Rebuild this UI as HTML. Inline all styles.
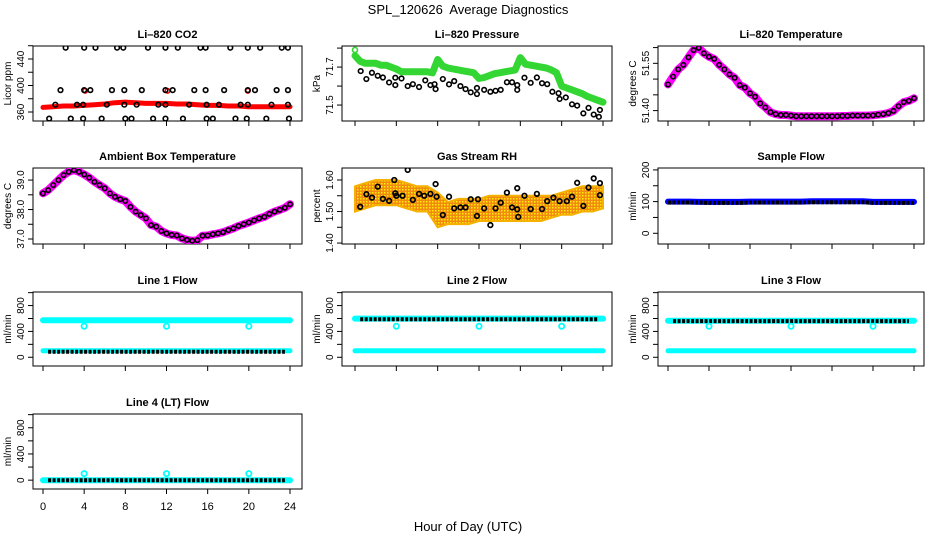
<!DOCTYPE html>
<html><head><meta charset="utf-8"><style>
html,body{margin:0;padding:0;background:#fff;}
svg{display:block;font-family:"Liberation Sans",sans-serif;}
</style></head><body>
<svg id="chart" width="936" height="540" viewBox="0 0 936 540" xmlns="http://www.w3.org/2000/svg">
<defs>
<pattern id="rhpat" width="3" height="3" patternUnits="userSpaceOnUse"><rect width="3" height="3" fill="#f08a10"/><rect x="0" y="0" width="1.5" height="1.5" fill="#ffee00"/></pattern>
</defs>
<text x="468" y="14" font-size="13" text-anchor="middle">SPL_120626&#160; Average Diagnostics</text>
<text x="468" y="531" font-size="13" text-anchor="middle">Hour of Day (UTC)</text>
</svg>
<script>
const halfHours=[0,0.5,1,1.5,2,2.5,3,3.5,4,4.5,5,5.5,6,6.5,7,7.5,8,8.5,9,9.5,10,10.5,11,11.5,12,12.5,13,13.5,14,14.5,15,15.5,16,16.5,17,17.5,18,18.5,19,19.5,20,20.5,21,21.5,22,22.5,23,23.5,24];
const hours=[0,1,2,3,4,5,6,7,8,9,10,11,12,13,14,15,16,17,18,19,20,21,22,23,24];
const xTicks=[0,4,8,12,16,20,24];
// CO2
const co2Red=[367,368,369,369,370,371,372,374,375,374,373,373,373,372,372,371,370,370,369,369,368,368,368,368,368];
const co2RedOutHours=[4.1,12.1,19.9];
const co2RedOutVals=[392,392,392];
const co2BlackHours=[2.2,4.0,5.1,7.2,7.8,10.2,11.9,13.1,15.3,15.8,18.2,19.9,21.1,23.2,23.8,1.7,4.0,4.6,6.7,7.9,9.6,11.9,12.6,14.7,15.8,17.6,19.9,20.6,22.7,23.8,1.2,3.3,3.9,6.2,7.9,9.1,11.2,11.9,14.2,15.9,17.1,19.2,19.9,22.2,23.8,0.6,2.7,3.9,5.7,8.0,8.6,10.7,11.9,13.6,15.9,16.5,18.7,19.8,21.7,23.9];
const co2BlackVals=[457,457,457,457,457,457,457,457,457,457,457,457,457,457,457,393,393,393,393,393,393,393,393,393,393,393,393,393,393,393,371,371,371,371,371,371,371,371,371,371,371,371,371,371,371,350,350,350,350,350,350,350,350,350,350,350,350,350,350,350];
// Pressure
const presGreen=[71.76,71.73,71.72,71.72,71.72,71.71,71.71,71.70,71.69,71.675,71.675,71.675,71.675,71.675,71.675,71.67,71.74,71.705,71.695,71.69,71.685,71.68,71.675,71.67,71.64,71.645,71.655,71.665,71.67,71.675,71.68,71.685,71.75,71.715,71.71,71.705,71.70,71.695,71.685,71.67,71.60,71.59,71.58,71.57,71.56,71.545,71.535,71.525,71.515];
const presBlackHours=[0.55,1.1,1.64,2.2,2.7,3.3,3.9,3.9,4.5,5.1,5.6,6.2,6.8,7.3,7.7,7.8,8.5,9.1,9.6,10.2,10.7,11.2,11.8,11.8,12.5,13.1,13.6,14.1,14.7,15.2,15.7,15.7,16.4,17.0,17.6,18.1,18.6,19.1,19.7,19.8,20.4,21.0,21.5,22.1,22.6,23.1,23.6,23.7];
const presBlackVals=[71.679,71.637,71.67,71.654,71.645,71.619,71.644,71.605,71.64,71.60,71.61,71.595,71.63,71.605,71.61,71.584,71.637,71.609,71.626,71.60,71.584,71.567,71.558,71.59,71.58,71.57,71.575,71.58,71.62,71.62,71.605,71.58,71.644,71.617,71.645,71.615,71.61,71.57,71.562,71.532,71.54,71.504,71.497,71.456,71.485,71.45,71.438,71.474];
// Li-820 temperature
const licorTemp=[51.483,51.508,51.531,51.545,51.569,51.592,51.599,51.582,51.571,51.564,51.545,51.531,51.515,51.504,51.481,51.473,51.455,51.444,51.423,51.410,51.395,51.389,51.386,51.386,51.384,51.382,51.382,51.382,51.382,51.382,51.382,51.382,51.382,51.382,51.383,51.383,51.384,51.384,51.384,51.384,51.385,51.387,51.389,51.392,51.399,51.414,51.427,51.431,51.439];
// Ambient
const ambTemp=[38.55,38.66,38.83,39.0,39.17,39.28,39.34,39.28,39.19,39.08,38.94,38.83,38.72,38.55,38.43,38.35,38.29,38.09,37.93,37.81,37.70,37.47,37.42,37.27,37.19,37.14,37.12,37.02,36.97,36.94,36.96,37.11,37.12,37.16,37.19,37.23,37.30,37.36,37.44,37.50,37.56,37.63,37.70,37.75,37.85,37.93,37.99,38.06,38.18];
// RH
const rhUpper=[1.58,1.59,1.60,1.60,1.60,1.59,1.58,1.58,1.56,1.53,1.54,1.54,1.54,1.55,1.55,1.55,1.55,1.55,1.55,1.55,1.56,1.57,1.58,1.58,1.58];
const rhLower=[1.50,1.51,1.52,1.52,1.52,1.51,1.50,1.50,1.45,1.46,1.46,1.46,1.47,1.47,1.47,1.47,1.47,1.47,1.47,1.48,1.49,1.49,1.50,1.50,1.51];
const rhBlackHours=[0.5,1.1,1.64,2.2,2.7,3.3,3.8,3.9,4.0,4.6,5.1,5.6,6.2,6.7,7.3,7.8,7.9,8.5,9.1,9.6,10.2,10.7,11.2,11.8,11.9,12.5,13.1,13.6,14.1,14.7,15.2,15.7,15.7,15.8,16.4,17.0,17.6,18.1,18.6,19.2,19.8,20.5,21.0,21.5,22.1,22.6,23.1,23.7,23.7];
const rhBlackVals=[1.515,1.555,1.544,1.579,1.54,1.534,1.60,1.558,1.55,1.55,1.632,1.537,1.556,1.55,1.556,1.587,1.547,1.489,1.547,1.51,1.513,1.513,1.539,1.486,1.539,1.51,1.457,1.51,1.528,1.56,1.513,1.574,1.507,1.483,1.55,1.508,1.556,1.508,1.533,1.544,1.533,1.533,1.547,1.591,1.518,1.576,1.605,1.552,1.59];
// Flows
const sampleBlue=[100,100,100,99,99,99,99,99,100,100,100,100,100,100,101,101,101,101,101,101,99,99,99,99,99];
const sampleBlack=[97,97,97,97,96,96,96,96,97,97,97,97,97,97,98,98,98,98,98,98,96,96,96,96,96];
const line1CyanHigh=[572,572,572,572,572,572,572,572,572,572,572,572,572,572,572,572,572,572,572,572,572,572,572,572,572];
const line1CyanLow=[100,100,100,100,100,100,100,100,100,100,100,100,100,100,100,100,100,100,100,100,100,100,100,100,100];
const line1Black=[85,85,85,85,85,85,85,85,85,85,85,85,85,85,85,85,85,85,85,85,85,85,85,85,85];
const line2CyanHigh=[598,598,598,598,598,598,598,598,598,598,598,598,598,598,598,598,598,598,598,598,598,598,598,598,598];
const line2CyanLow=[100,100,100,100,100,100,100,100,100,100,100,100,100,100,100,100,100,100,100,100,100,100,100,100,100];
const line2Black=[588,588,588,588,588,588,588,588,588,588,588,588,588,588,588,588,588,588,588,588,588,588,588,588,588];
const line3CyanHigh=[565,565,565,565,565,565,565,565,565,565,565,565,565,565,565,565,565,565,565,565,565,565,565,565,565];
const line3CyanLow=[100,100,100,100,100,100,100,100,100,100,100,100,100,100,100,100,100,100,100,100,100,100,100,100,100];
const line3Black=[560,560,560,560,560,560,560,560,560,560,560,560,560,560,560,560,560,560,560,560,560,560,560,560,560];
const line4Cyan=[0,0,0,0,0,0,0,0,0,0,0,0,0,0,0,0,0,0,0,0,0,0,0,0,0];
const line4Black=[0,0,0,0,0,0,0,0,0,0,0,0,0,0,0,0,0,0,0,0,0,0,0,0,0];
const flowOutHours=[4,12,20];
const flowOutVals=[480,480,480];
const line4OutVals=[100,100,100];

const svg=document.getElementById('chart');
const NS='http://www.w3.org/2000/svg';
const COLS=[[33,302,43,290],[342,612,355,603],[658,924,668,914]];
const ROWS=[[46,121],[168,244],[292,366],[414,489]];
function mk(tag,attrs,parent){const e=document.createElementNS(NS,tag);for(const k in attrs)e.setAttribute(k,attrs[k]);(parent||svg).appendChild(e);return e;}

function panel(name,c,r,title,ylab,vmin,vmax,yt,ylabels,yfmt){
  const [L,R,X0,X24]=COLS[c],[T,B]=ROWS[r];
  const g=mk('g',{});
  
  
  const p={g,L,R,T,B,x:h=>X0+h*(X24-X0)/24,y:v=>B-(v-vmin)/(vmax-vmin)*(B-T)};
  const tt=mk('text',{x:(L+R)/2,y:T-8,'font-size':11,'font-weight':'bold','text-anchor':'middle'},g);
  tt.textContent=title;
  
  
  const box=mk('rect',{x:L,y:T,width:R-L,height:B-T,fill:'none',stroke:'#000','stroke-width':1},g);
  
  
  xTicks.forEach(h=>{
    const xx=p.x(h);
    mk('line',{x1:xx,x2:xx,y1:B,y2:B+5,stroke:'#000'},g);
    if(r===3){const t=mk('text',{x:xx,y:B+21,'font-size':11,'text-anchor':'middle'},g);t.textContent=h;
      
      }
  });
  yt.forEach(v=>{const yy=p.y(v);mk('line',{x1:L,x2:L-5,y1:yy,y2:yy,stroke:'#000'},g);});
  ylabels.forEach(v=>{const yy=p.y(v);
    const t=mk('text',{x:0,y:0,'font-size':10,'text-anchor':'middle',transform:`translate(${L-9},${yy}) rotate(-90)`},g);
    t.textContent=yfmt(v);
    
    });
  const yl=mk('text',{x:0,y:0,'font-size':10,'text-anchor':'middle',transform:`translate(${L-22},${(T+B)/2}) rotate(-90)`},g);
  yl.textContent=ylab;
  
  
  const clip=mk('clipPath',{id:'clip'+name},g);mk('rect',{x:L,y:T,width:R-L,height:B-T},clip);
  p.plot=mk('g',{'clip-path':`url(#clip${name})`},g);
  return p;
}
function band(p,xs,vals,color,w,nm,dash){
  const d=xs.map((h,i)=>(i?'L':'M')+p.x(h).toFixed(1)+','+p.y(vals[i]).toFixed(1)).join('');
  const a={d,fill:'none',stroke:color,'stroke-width':w,'stroke-linejoin':'round','stroke-linecap':dash?'butt':'round'};
  if(dash)a['stroke-dasharray']=dash;
  const e=mk('path',a,p.plot);
  
  
}
function pts(p,xs,vals,color,rad,sw,nm){
  xs.forEach((h,i)=>{const e=mk('circle',{cx:p.x(h),cy:p.y(vals[i]),r:rad,fill:'none',stroke:color,'stroke-width':sw},p.plot);
    
    });
}
function area(p,xs,up,lo,fill,nm){
  let d=xs.map((h,i)=>(i?'L':'M')+p.x(h).toFixed(1)+','+p.y(up[i]).toFixed(1)).join('');
  for(let i=xs.length-1;i>=0;i--)d+='L'+p.x(xs[i]).toFixed(1)+','+p.y(lo[i]).toFixed(1);
  const e=mk('path',{d:d+'Z',fill,stroke:'#f5b000','stroke-width':2},p.plot);
  
  
}
const f0=v=>String(v), f1=v=>v.toFixed(1), f2=v=>v.toFixed(2);

let p=panel('co2',0,0,'Li\u2013820 CO2','Licor ppm',346.4,459.6,[360,380,400,420,440,460],[360,400,440],f0);
band(p,hours,co2Red,'#ff0000',5,'co2-red-series');
pts(p,co2RedOutHours,co2RedOutVals,'#ff0000',2.3,1.6,'co2-red-outlier');
pts(p,co2BlackHours,co2BlackVals,'#000',2.3,1.6,'co2-black-point');

p=panel('pressure',1,0,'Li\u2013820 Pressure','kPa',71.416,71.811,[71.5,71.6,71.7,71.8],[71.5,71.7],f1);
band(p,halfHours,presGreen,'#33d633',7,'pressure-green-series');
pts(p,[0],[71.79],'#33d633',2.5,1.6,'pressure-green-start');
pts(p,presBlackHours,presBlackVals,'#000',2.3,1.6,'pressure-black-point');

p=panel('licor-temp',2,0,'Li\u2013820 Temperature','degrees C',51.367,51.605,[51.40,51.45,51.50,51.55,51.60],[51.40,51.55],f2);
band(p,halfHours,licorTemp,'#ff00ff',8,'licor-temp-magenta-series');
pts(p,halfHours,licorTemp,'#000',2.2,1.6,'licor-temp-black-point');

p=panel('ambient',0,1,'Ambient Box Temperature','degrees C',36.83,39.41,[37,37.5,38,38.5,39],[37,38,39],f1);
band(p,halfHours,ambTemp,'#ff00ff',8,'ambient-magenta-series');
pts(p,halfHours,ambTemp,'#000',2.2,1.6,'ambient-black-point');

p=panel('rh',1,1,'Gas Stream RH','percent',1.397,1.638,[1.40,1.45,1.50,1.55,1.60],[1.40,1.50,1.60],f2);
area(p,hours,rhUpper,rhLower,'url(#rhpat)','rh-orange-cloud');
pts(p,rhBlackHours,rhBlackVals,'#000',2.3,1.7,'rh-black-point');

p=panel('sample-flow',2,1,'Sample Flow','ml/min',-33.8,206,[0,50,100,150,200],[0,100,200],f0);
band(p,hours,sampleBlue,'#0000ff',6,'sample-blue-series');
band(p,hours,sampleBlack,'#000',4,'sample-black-series','3 1.5');

p=panel('line1',0,2,'Line 1 Flow','ml/min',-135,1010,[0,200,400,600,800,1000],[0,400,800],f0);
band(p,hours,line1CyanHigh,'#00ffff',6,'line1-cyan-high');
band(p,hours,line1CyanLow,'#00ffff',5,'line1-cyan-low');
band(p,hours.slice(1).map(h=>h-0.5),line1Black.slice(1),'#000',4,'line1-black-series','3 1.5');
pts(p,flowOutHours,flowOutVals,'#00ffff',2.6,1.8,'line1-outlier');

p=panel('line2',1,2,'Line 2 Flow','ml/min',-135,1010,[0,200,400,600,800,1000],[0,400,800],f0);
band(p,hours,line2CyanHigh,'#00ffff',6,'line2-cyan-high');
band(p,hours,line2CyanLow,'#00ffff',5,'line2-cyan-low');
band(p,hours.slice(1).map(h=>h-0.5),line2Black.slice(1),'#000',4,'line2-black-series','3 1.5');
pts(p,flowOutHours,flowOutVals,'#00ffff',2.6,1.8,'line2-outlier');

p=panel('line3',2,2,'Line 3 Flow','ml/min',-135,1010,[0,200,400,600,800,1000],[0,400,800],f0);
band(p,hours,line3CyanHigh,'#00ffff',6,'line3-cyan-high');
band(p,hours,line3CyanLow,'#00ffff',5,'line3-cyan-low');
band(p,hours.slice(1).map(h=>h-0.5),line3Black.slice(1),'#000',4,'line3-black-series','3 1.5');
pts(p,flowOutHours,flowOutVals,'#00ffff',2.6,1.8,'line3-outlier');

p=panel('line4',0,3,'Line 4 (LT) Flow','ml/min',-135,1010,[0,200,400,600,800,1000],[0,400,800],f0);
band(p,hours,line4Cyan,'#00ffff',6,'line4-cyan-series');
band(p,hours.slice(1).map(h=>h-0.5),line4Black.slice(1),'#000',4,'line4-black-series','3 1.5');
pts(p,flowOutHours,line4OutVals,'#00ffff',2.6,1.8,'line4-outlier');
</script>
</body></html>
